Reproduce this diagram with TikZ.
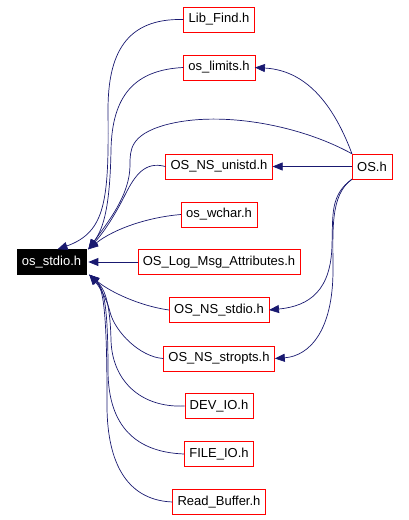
\documentclass[tikz,border=0pt]{standalone}
\usepackage{fontspec}
\setmainfont{Liberation Sans}
\usetikzlibrary{arrows.meta}
\definecolor{edgeblue}{RGB}{25,25,112}
\tikzset{
    file/.style={draw=red, fill=white, minimum height=25pt, inner xsep=5pt, inner ysep=0pt, font=\fontsize{13}{15}\selectfont}, % header box
    main file/.style={file, draw=black, fill=black, text=white}, % the graph's root
    inc/.style={draw=edgeblue, line width=0.7pt, -{Triangle[length=10pt, width=8pt]}, fill=none} % include edge
}
\begin{document}
\begin{tikzpicture}[x=1pt, y=-1pt]
    \useasboundingbox (0,0) rectangle (408,520);

    \node[main file] (stdio) at (51.5,262) {os\_stdio.h};
    \foreach \name/\txt/\y in {libfind/Lib\_Find.h/19.5, limits/os\_limits.h/67.5, unistd/OS\_NS\_unistd.h/166.5,
        wchar/os\_wchar.h/214.5, logmsg/OS\_Log\_Msg\_Attributes.h/262, nsstdio/OS\_NS\_stdio.h/310,
        stropts/OS\_NS\_stropts.h/358.5, devio/DEV\_IO.h/406, fileio/FILE\_IO.h/454, readbuf/Read\_Buffer.h/502}
        {\node[file] (\name) at (219,\y) {\txt};}
    \node[file] (os) at (372,166.5) {OS.h};

    % edges into os_stdio.h
    \draw[inc] (libfind.west) .. controls (125,18) and (108,55) .. (108,110) .. controls (109,200) and (106,232) .. ([xshift=6pt]stdio.north);
    \draw[inc] (limits.west) .. controls (135,70) and (112,95) .. (111,150) .. controls (110,205) and (104,228) .. ([xshift=2pt]stdio.north east);
    \draw[inc] (os.north west) .. controls (300,125) and (220,110) .. (165,125) .. controls (130,135) and (130,150) .. (130,165) .. controls (130,195) and (108,222) .. ([xshift=2pt]stdio.north east);
    \draw[inc] (unistd.west) .. controls (145,161) and (135,175) .. (125,195) .. controls (115,215) and (104,232) .. ([xshift=2pt]stdio.north east);
    \draw[inc] (wchar.west) .. controls (150,217) and (115,228) .. ([xshift=2pt]stdio.north east);
    \draw[inc] (logmsg) -- ([xshift=2pt]stdio.east);
    \draw[inc] (nsstdio.west) .. controls (140,306) and (110,292) .. ([xshift=3pt]stdio.south east);
    \draw[inc] (stropts.west) .. controls (140,357) and (115,332) .. (110,312) .. controls (106,296) and (98,285) .. ([xshift=3pt]stdio.south east);
    \draw[inc] (devio.west) .. controls (140,408) and (112,380) .. (111,340) .. controls (110,300) and (104,288) .. ([xshift=3pt]stdio.south east);
    \draw[inc] (fileio.west) .. controls (130,452) and (108,420) .. (108,370) .. controls (108,300) and (103,288) .. ([xshift=3pt]stdio.south east);
    \draw[inc] (readbuf.west) .. controls (125,500) and (106,460) .. (107,400) .. controls (107,310) and (103,288) .. ([xshift=3pt]stdio.south east);

    % edges out of OS.h
    \draw[inc] (os.north west) .. controls (330,95) and (300,70) .. (limits.east);
    \draw[inc] (os) -- (unistd);
    \draw[inc] (os.south west) .. controls (330,195) and (333,215) .. (332,245) .. controls (331,290) and (310,306) .. (nsstdio.east);
    \draw[inc] (os.south west) .. controls (330,195) and (333,230) .. (333,270) .. controls (333,330) and (310,356) .. (stropts.east);
\end{tikzpicture}
\end{document}
